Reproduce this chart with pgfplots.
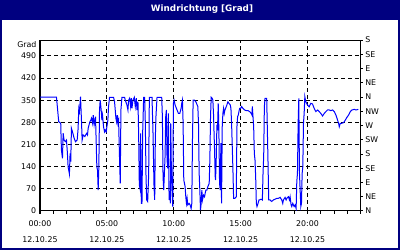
\documentclass[border=0pt]{standalone}
\usepackage{fontspec}
\setmainfont{DejaVu Sans}
\usepackage{pgfplots}
\pgfplotsset{compat=1.18}
\definecolor{navy}{RGB}{0,0,128}
\definecolor{lineblue}{RGB}{0,0,255}
\newcommand{\tl}[1]{\begin{tabular}{@{}c@{}}#1\\12.10.25\end{tabular}}
\begin{document}
\begin{tikzpicture}[x=0.75pt,y=0.75pt]
\fill[navy] (0,0) rectangle (400,250);
\fill[white] (2,2) rectangle (398,230);
\node[white,font=\fontsize{6.6}{8}\selectfont\bfseries] at (202,241) {Windrichtung [Grad]};
\begin{axis}[
  name=main,
  at={(30pt,29.25pt)}, anchor=south west,
  scale only axis, width=240.75pt, height=128.25pt,
  xmin=0, xmax=24, ymin=0, ymax=540,
  axis line style={black, line width=0.75pt},
  /pgf/number format/assume math mode=true,
  tick label style={font=\fontsize{5.9}{11.8}\selectfont, black},
  xtick={0,5,10,15,20},
  xticklabels={\tl{00:00},\tl{05:00},\tl{10:00},\tl{15:00},\tl{20:00}},
  xticklabel style={yshift=2.3pt},
  minor xtick={1,2,3,4,6,7,8,9,11,12,13,14,16,17,18,19,21,22,23,24},
  xtick pos=bottom, tick align=outside,
  major tick length=2.25pt, minor tick length=2.25pt,
  tick style={black, line width=0.75pt},
  ytick={0,70,140,210,280,350,420,490},
  ytick pos=left,
  ytick style={draw=none},
  yticklabel style={inner sep=0.5pt},
  xmajorgrids, ymajorgrids,
  major grid style={black, line width=0.75pt, dash pattern=on 3pt off 2.25pt},
  clip=true,
]
\addplot[lineblue, line width=0.75pt] coordinates {
(0,360) (1.23,360) (1.40,282) (1.55,277) (1.60,193) (1.68,166) (1.73,246) (1.80,224) (1.90,219) (1.98,224) (2.05,182) (2.10,140) (2.20,117) (2.25,182) (2.30,156) (2.35,261) (2.43,250) (2.55,230) (2.65,219) (2.78,224) (2.85,261) (2.90,324) (2.95,314) (3.03,361) (3.10,287) (3.15,224) (3.23,240) (3.35,235) (3.48,245) (3.55,240) (3.60,261) (3.73,282) (3.80,287) (3.85,293) (3.93,277) (3.98,303) (4.05,272) (4.15,298) (4.25,140) (4.30,129) (4.35,66) (4.40,140) (4.45,319) (4.50,350) (4.575,319) (4.625,287) (4.675,303) (4.75,266) (4.825,250) (4.875,256) (4.95,250) (5.0,266) (5.075,287) (5.125,330) (5.20,359) (5.50,359) (5.575,345) (5.625,319) (5.675,293) (5.725,282) (5.775,303) (5.825,277) (5.875,287) (5.95,161) (6.0,87) (6.05,319) (6.125,359) (6.325,359) (6.375,350) (6.50,335) (6.575,319) (6.625,350) (6.70,356) (6.775,330) (6.825,356) (6.875,324) (6.95,350) (7.05,359) (7.125,330) (7.20,356) (7.25,319) (7.325,345) (7.375,245) (7.425,82) (7.475,71) (7.525,245) (7.575,24) (7.625,24) (7.675,245) (7.75,359) (7.825,359) (7.875,277) (7.925,114) (7.975,35) (8.05,30) (8.125,114) (8.175,359) (8.375,359) (8.45,245) (8.525,77) (8.575,35) (8.625,235) (8.675,303) (8.75,359) (9.10,359) (9.15,298) (9.20,108) (9.25,66) (9.30,119) (9.35,172) (9.40,298) (9.45,319) (9.50,161) (9.55,135) (9.60,308) (9.65,35) (9.70,56) (9.75,24) (9.775,277) (9.825,119) (9.875,56) (9.925,14) (9.975,340) (10.025,350) (10.10,335) (10.20,324) (10.35,308) (10.45,308) (10.55,324) (10.60,340) (10.65,350) (10.70,277) (10.75,98) (10.85,77) (10.90,45) (10.95,24) (11.00,40) (11.05,19) (11.15,24) (11.225,19) (11.30,8) (11.35,24) (11.40,224) (11.45,350) (11.55,350) (11.65,345) (11.75,335) (11.80,330) (11.85,277) (11.90,119) (11.95,66) (12.00,3) (12.05,24) (12.10,66) (12.15,35) (12.225,50) (12.30,45) (12.35,56) (12.40,66) (12.475,66) (12.55,77) (12.65,87) (12.70,161) (12.75,298) (12.80,359) (12.875,356) (12.925,350) (12.975,303) (13.05,193) (13.10,108) (13.125,98) (13.175,161) (13.225,266) (13.275,261) (13.325,340) (13.375,256) (13.425,87) (13.475,66) (13.525,214) (13.575,24) (13.625,266) (13.675,308) (13.725,324) (13.775,308) (13.825,319) (13.875,324) (13.975,335) (14.05,345) (14.125,340) (14.225,335) (14.275,324) (14.325,277) (14.375,203) (14.425,130) (14.475,40) (14.575,40) (14.675,45) (14.725,266) (14.775,298) (14.825,303) (14.875,314) (14.925,324) (15.00,324) (15.075,330) (15.175,324) (15.30,319) (15.425,317) (15.55,317) (15.675,314) (15.80,308) (15.85,303) (15.875,330) (15.925,298) (15.975,266) (16.025,182) (16.075,161) (16.125,108) (16.175,24) (16.225,14) (16.30,24) (16.375,35) (16.425,35) (16.50,37) (16.575,37) (16.625,35) (16.675,119) (16.725,172) (16.775,330) (16.825,356) (16.95,356) (17.05,150) (17.10,35) (17.20,35) (17.325,30) (17.45,35) (17.575,37) (17.70,40) (17.825,40) (17.95,43) (18.075,35) (18.15,24) (18.20,35) (18.325,43) (18.40,35) (18.45,40) (18.575,45) (18.65,35) (18.70,45) (18.775,19) (18.825,14) (18.90,24) (19.00,14) (19.075,19) (19.15,8) (19.20,93) (19.25,119) (19.30,277) (19.35,356) (19.40,119) (19.45,66) (19.50,14) (19.55,24) (19.60,119) (19.65,140) (19.70,277) (19.75,308) (19.80,361) (19.875,345) (20.0,335) (20.125,329) (20.25,340) (20.375,338) (20.5,324) (20.625,314) (20.75,319) (20.875,314) (21.0,308) (21.125,300) (21.25,308) (21.375,314) (21.5,319) (21.625,319) (21.75,317) (21.875,319) (22.0,314) (22.125,303) (22.25,287) (22.325,277) (22.375,266) (22.45,277) (22.55,277) (22.70,279) (22.825,287) (22.95,296) (23.075,303) (23.20,314) (23.325,319) (23.50,321) (23.625,319) (23.80,321)
};
\end{axis}
\begin{axis}[
  at={(30pt,29.25pt)}, anchor=south west,
  scale only axis, width=240.75pt, height=128.25pt,
  xmin=0, xmax=24, ymin=0, ymax=540,
  axis line style={draw=none},
  xtick=\empty,
  ytick={0,45,...,540},
  yticklabels={N,NE,E,SE,S,SW,W,NW,N,NE,E,SE,S},
  ytick pos=right, yticklabel pos=right,
  tick align=outside, major tick length=1.5pt,
  tick style={black, line width=0.75pt},
  yticklabel style={inner sep=1.5pt, font=\fontsize{5.9}{7}\selectfont, black},
]
\end{axis}
\node[anchor=east, inner sep=0.5pt, font=\fontsize{5.9}{7}\selectfont] at ([xshift=-2pt,yshift=-3.75pt]main.north west) {Grad};
\end{tikzpicture}
\end{document}
